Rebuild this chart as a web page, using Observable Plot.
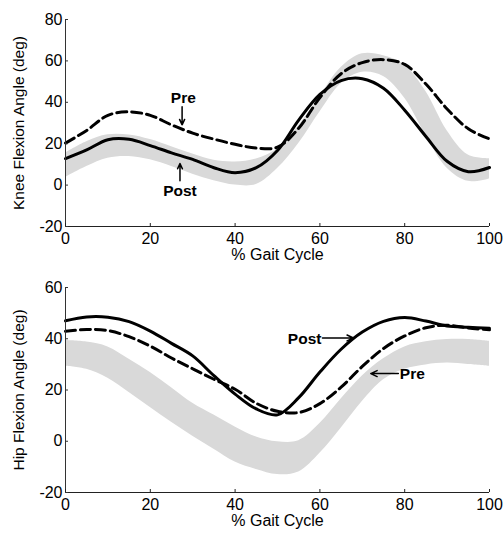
<!DOCTYPE html>
<html><head><meta charset="utf-8">
<script src="https://cdn.jsdelivr.net/npm/d3@7"></script>
<script src="https://cdn.jsdelivr.net/npm/@observablehq/plot@0.6"></script>
<style>body{margin:0;background:#fff}#c svg{display:block}</style>
</head><body><div id="c"></div>
<script>
const gait = [0,5,10,15,20,25,30,35,40,45,50,55,60,65,70,75,80,85,90,95,100];
const xTicks = [0,20,40,60,80,100];
const xLabel = "% Gait Cycle";

// Knee
const kneeTicks = [-20,0,20,40,60,80];
const kneeTickLabels = ["-20","0","20","40","60","80"];
const kneeLabel = "Knee Flexion Angle (deg)";
const kneePre  = [20.3,26.4,33.7,35.4,33.7,29.1,25.1,22.2,19.7,17.9,18.3,27.5,42.3,53.8,59.2,60.6,58.3,48.8,36.8,27.2,22.3];
const kneePost = [12.8,17.0,21.9,22.1,19.1,15.6,12.4,8.4,6.0,8.4,16.7,31.4,43.8,50.5,51.4,46.8,36.2,23.5,11.5,6.5,8.5];
const kneeUpper= [15.5,21.0,24.3,24.2,22.0,18.5,15.0,12.0,11.2,12.6,17.5,28.7,42.8,56.8,63.4,62.5,58.0,45.2,26.3,14.5,12.7];
const kneeLower= [3.7,9.0,13.0,13.8,12.2,9.0,5.3,2.1,0.0,0.3,8.0,20.1,35.3,49.0,54.5,52.5,42.0,24.0,8.2,1.8,3.0];
const kneeNotes = [{label:"Pre", x:27.8, y:42.1},{label:"Post", x:27.0, y:-2.7}];
const kneeArrows = [{x1:27.5,y1:37.8,x2:27.5,y2:29.1},{x1:27.0,y1:2.1,x2:27.0,y2:10.4}];

// Hip
const hipTicks = [-20,0,20,40,60];
const hipTickLabels = ["-20","0","20","40","60"];
const hipLabel = "Hip Flexion Angle (deg)";
const hipPre  = [42.9,43.6,43.2,40.8,37.1,32.5,28.3,24.2,20.3,14.8,11.7,11.2,14.7,21.1,29.2,36.2,41.1,44.3,45.3,44.2,43.5];
const hipPost = [47.0,48.5,48.4,46.7,43.0,38.2,33.3,25.6,18.4,12.6,10.3,17.0,27.0,35.9,42.6,46.8,48.3,46.9,45.0,44.5,44.1];
const hipUpper= [39.3,38.7,36.8,32.0,26.8,20.9,14.8,10.2,5.6,1.7,-0.2,0.2,6.9,16.5,25.5,32.2,36.8,38.8,39.7,39.7,39.0];
const hipLower= [29.3,28.1,24.6,19.0,13.2,7.4,2.0,-3.1,-8.1,-11.0,-13.0,-12.0,-4.7,5.1,15.5,24.0,28.1,29.8,30.5,30.0,29.3];
const hipNotes = [{label:"Post", x:56.4, y:40.0},{label:"Pre", x:81.8, y:26.4}];
const hipArrows = [{x1:60.6,y1:40.3,x2:67.9,y2:40.3},{x1:78.5,y1:26.4,x2:72.0,y2:26.4}];

const FONT = "'Liberation Sans', Arial, Helvetica, sans-serif";

function panel(o) {
  const rows = gait.map((x,i)=>({x, pre:o.pre[i], post:o.post[i], upper:o.upper[i], lower:o.lower[i]}));
  const yMin = o.ticks[0];
  const yMax = o.ticks[o.ticks.length-1];
  const frameH = o.height - o.marginTop - o.marginBottom;
  const tickY = 3 * (yMax - yMin) / frameH;
  const tickX = 3 * 100 / (504 - 65 - 15);
  return Plot.plot({
    width: 504, height: o.height,
    marginLeft: 65, marginRight: 15, marginTop: o.marginTop, marginBottom: o.marginBottom,
    style: {fontFamily: FONT, fontSize: "16px", color: "black", background: "white", overflow: "visible"},
    x: {domain: [0,100], axis: null},
    y: {domain: [yMin, yMax], axis: null},
    marks: [
      Plot.areaY(rows, {x:"x", y1:"lower", y2:"upper", fill:"#d9d9d9", curve:"catmull-rom"}),
      Plot.lineY(rows, {x:"x", y:"pre", stroke:"black", strokeWidth:3, strokeDasharray:"10,5", curve:"catmull-rom"}),
      Plot.lineY(rows, {x:"x", y:"post", stroke:"black", strokeWidth:3, curve:"catmull-rom"}),
      Plot.ruleX([0], {stroke:"#333", strokeWidth:1}),
      Plot.ruleY([yMin], {stroke:"#222", strokeWidth:1}),
      Plot.ruleX(xTicks, {x:d=>d, y1:yMin, y2:yMin+tickY, stroke:"#222"}),
      Plot.ruleY(o.ticks, {y:d=>d, x1:0, x2:tickX, stroke:"#333"}),
      Plot.text(xTicks, {x:d=>d, frameAnchor:"bottom", lineAnchor:"middle", dy:12, text:d=>String(d)}),
      Plot.text(o.ticks, {y:d=>d, frameAnchor:"left", textAnchor:"end", lineAnchor:"middle", dx:-3, text:(d,i)=>o.tickLabels[i]}),
      Plot.text([xLabel], {frameAnchor:"bottom", lineAnchor:"middle", textAnchor:"middle", dy:28.5, text:d=>d}),
      Plot.text([o.label], {frameAnchor:"left", textAnchor:"middle", lineAnchor:"middle", rotate:-90, dx:-46, fontSize:15.5, text:d=>d}),
      Plot.arrow(o.arrows, {x1:"x1", y1:"y1", x2:"x2", y2:"y2", stroke:"black", strokeWidth:1.5, headLength:7, headAngle:50}),
      Plot.text(o.notes, {x:"x", y:"y", text:"label", fontWeight:"bold", fontSize:15.5, lineAnchor:"middle"})
    ]
  });
}

const c = document.getElementById("c");
c.append(panel({height:262, marginTop:19, marginBottom:36, ticks:kneeTicks, tickLabels:kneeTickLabels, label:kneeLabel,
  pre:kneePre, post:kneePost, upper:kneeUpper, lower:kneeLower, notes:kneeNotes, arrows:kneeArrows}));
c.append(panel({height:271, marginTop:25, marginBottom:41, ticks:hipTicks, tickLabels:hipTickLabels, label:hipLabel,
  pre:hipPre, post:hipPost, upper:hipUpper, lower:hipLower, notes:hipNotes, arrows:hipArrows}));
</script></body></html>
